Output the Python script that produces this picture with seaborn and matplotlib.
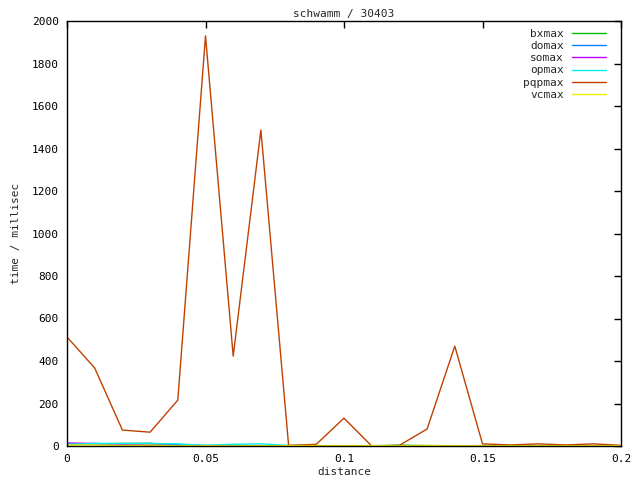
import matplotlib
matplotlib.use("Agg")
import matplotlib.pyplot as plt
import seaborn as sns
import pandas as pd

distance = [0.00, 0.01, 0.02, 0.03, 0.04, 0.05, 0.06, 0.07, 0.08, 0.09, 0.10,
            0.11, 0.12, 0.13, 0.14, 0.15, 0.16, 0.17, 0.18, 0.19, 0.20]
bxmax = [10, 10, 12, 12, 3, 2, 2, 1, 1, 1, 1, 1, 4, 2, 1, 1, 1, 1, 1, 1, 1]
domax = [8, 8, 10, 12, 6, 2, 2, 1, 1, 1, 1, 1, 1, 1, 1, 1, 1, 1, 1, 1, 1]
somax = [14, 12, 8, 5, 2, 1, 1, 1, 1, 1, 1, 1, 1, 1, 1, 2, 1, 1, 1, 1, 1]
opmax = [8, 12, 12, 12, 10, 3, 8, 10, 3, 1, 1, 1, 1, 1, 1, 1, 1, 1, 2, 1, 1]
pqpmax = [513, 367, 75, 65, 216, 1930, 423, 1487, 3, 8, 131,
          0, 3, 80, 470, 10, 5, 10, 5, 10, 3]
vcmax = [5, 5, 3, 4, 1, 1, 1, 1, 2, 2, 2, 2, 1, 2, 2, 1, 1, 1, 1, 1, 1]

series_names = ["bxmax", "domax", "somax", "opmax", "pqpmax", "vcmax"]
series_vals = [bxmax, domax, somax, opmax, pqpmax, vcmax]
colors = ["#00c000", "#0080ff", "#c000ff", "#00eeee", "#c04000", "#eeee00"]

rows = []
for name, vals in zip(series_names, series_vals):
    for d, v in zip(distance, vals):
        rows.append({"distance": d, "time": v, "series": name})
df = pd.DataFrame(rows)

sns.set_style("white")
plt.rcParams["font.family"] = ["DejaVu Sans Mono"]

fig = plt.figure(figsize=(6.4, 4.8), dpi=100)
ax = fig.add_axes([67/640, 34/480, 554/640, 425/480])

sns.lineplot(data=df, x="distance", y="time", hue="series",
             hue_order=series_names, palette=dict(zip(series_names, colors)),
             linewidth=1, ax=ax, legend=False)

ax.set_xlim(0, 0.2)
ax.set_ylim(0, 2000)
ax.set_xticks([0, 0.05, 0.1, 0.15, 0.2])
ax.set_xticklabels(["0", "0.05", "0.1", "0.15", "0.2"])
ax.set_yticks(range(0, 2001, 200))
ax.tick_params(direction="in", length=5, width=1, top=True, right=True,
               labelsize=8, colors="black", pad=6)
for s in ax.spines.values():
    s.set_color("black")
    s.set_linewidth(1)
    s.set_visible(True)

ax.set_title("schwamm / 30403", fontsize=8, pad=3)
ax.set_xlabel("distance", fontsize=8, labelpad=2)
ax.set_ylabel("time / millisec", fontsize=8, labelpad=8)

from matplotlib.lines import Line2D
handles = [Line2D([], [], color=c, linewidth=1) for c in colors]
ax.legend(handles, series_names, loc="upper right", frameon=False,
          bbox_to_anchor=(1 - 7/554, 1),
          markerfirst=False, fontsize=8, handlelength=3.1, labelspacing=0.2,
          borderaxespad=0.3, handletextpad=0.7)

fig.savefig("out.png", dpi=100)
